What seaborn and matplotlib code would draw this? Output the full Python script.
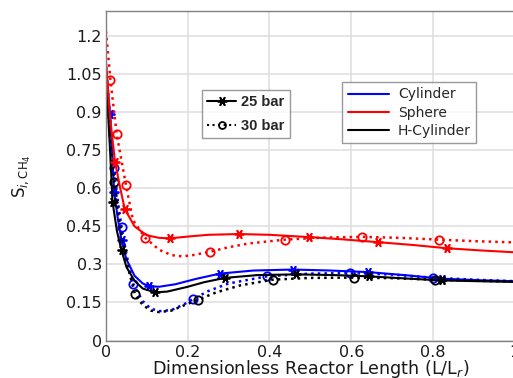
import matplotlib
matplotlib.use("Agg")
import matplotlib.pyplot as plt
import seaborn as sns
from matplotlib.lines import Line2D

# ---- data ----
# Sphere, 25 bar (red solid)
sph25_x = [0, 0.01, 0.022, 0.035, 0.046, 0.07, 0.1, 0.13, 0.156, 0.2, 0.25, 0.325, 0.4, 0.496, 0.58, 0.665, 0.75, 0.834, 0.92, 1.0]
sph25_y = [1.1, 0.88, 0.706, 0.6, 0.518, 0.45, 0.415, 0.405, 0.403, 0.41, 0.417, 0.42, 0.417, 0.408, 0.399, 0.388, 0.377, 0.364, 0.355, 0.348]
sph25_mk = [2, 4, 8, 11, 13, 15, 17]

# Sphere, 30 bar (red dotted)
sph30_x = [0, 0.011, 0.026, 0.049, 0.066, 0.096, 0.13, 0.16, 0.185, 0.21, 0.254, 0.3, 0.35, 0.438, 0.53, 0.626, 0.72, 0.814, 0.9, 1.0]
sph30_y = [1.22, 1.026, 0.816, 0.612, 0.475, 0.405, 0.358, 0.337, 0.332, 0.336, 0.35, 0.368, 0.383, 0.398, 0.406, 0.409, 0.405, 0.398, 0.392, 0.387]
sph30_mk = [1, 2, 3, 5, 10, 13, 15, 17]

# Cylinder, 25 bar (blue solid)
cyl25_x = [0, 0.005, 0.01, 0.02, 0.029, 0.038, 0.05, 0.07, 0.09, 0.106, 0.13, 0.17, 0.22, 0.279, 0.36, 0.458, 0.55, 0.641, 0.73, 0.822, 0.91, 1.0]
cyl25_y = [1.08, 0.98, 0.895, 0.587, 0.48, 0.396, 0.32, 0.255, 0.225, 0.214, 0.212, 0.222, 0.243, 0.264, 0.276, 0.28, 0.276, 0.27, 0.258, 0.244, 0.238, 0.234]
cyl25_mk = [2, 3, 5, 9, 13, 15, 17, 19]

# Cylinder, 30 bar (blue dotted)
cyl30_x = [0, 0.005, 0.01, 0.02, 0.029, 0.038, 0.05, 0.067, 0.09, 0.11, 0.132, 0.16, 0.19, 0.212, 0.25, 0.3, 0.393, 0.5, 0.597, 0.7, 0.8, 0.9, 1.0]
cyl30_y = [1.08, 0.98, 0.87, 0.68, 0.55, 0.449, 0.34, 0.222, 0.155, 0.125, 0.116, 0.12, 0.142, 0.162, 0.195, 0.225, 0.253, 0.264, 0.266, 0.26, 0.248, 0.24, 0.234]
cyl30_mk = [3, 5, 7, 13, 16, 18, 20]

# H-Cylinder, 25 bar (black solid)
hcy25_x = [0, 0.005, 0.01, 0.016, 0.027, 0.038, 0.05, 0.07, 0.09, 0.12, 0.15, 0.2, 0.24, 0.291, 0.37, 0.466, 0.56, 0.644, 0.73, 0.822, 0.91, 1.0]
hcy25_y = [1.05, 0.9, 0.75, 0.547, 0.43, 0.356, 0.29, 0.235, 0.205, 0.19, 0.193, 0.212, 0.23, 0.247, 0.258, 0.261, 0.258, 0.253, 0.245, 0.237, 0.234, 0.231]
hcy25_mk = [3, 5, 9, 13, 15, 17, 19]

# H-Cylinder, 30 bar (black dotted)
hcy30_x = [0, 0.005, 0.01, 0.02, 0.03, 0.04, 0.055, 0.071, 0.09, 0.11, 0.13, 0.16, 0.19, 0.225, 0.27, 0.33, 0.408, 0.5, 0.606, 0.7, 0.805, 0.9, 1.0]
hcy30_y = [1.05, 0.93, 0.8, 0.627, 0.5, 0.4, 0.28, 0.182, 0.14, 0.118, 0.112, 0.118, 0.138, 0.161, 0.19, 0.218, 0.24, 0.247, 0.248, 0.246, 0.24, 0.236, 0.232]
hcy30_mk = [3, 7, 13, 16, 18, 20]

x_ticks = [0, 0.2, 0.4, 0.6, 0.8, 1.0]
x_tick_labels = ["0", "0.2", "0.4", "0.6", "0.8", "1"]
y_ticks = [0, 0.15, 0.3, 0.45, 0.6, 0.75, 0.9, 1.05, 1.2]
y_tick_labels = ["0", "0.15", "0.3", "0.45", "0.6", "0.75", "0.9", "1.05", "1.2"]

geom_names = ["Cylinder", "Sphere", "H-Cylinder"]
geom_colors = ["#0000ff", "#ff0000", "#000000"]
press_names = ["25 bar", "30 bar"]

# ---- figure ----
sns.set_style("white")
plt.rcParams['font.family'] = ['DejaVu Sans']
fig = plt.figure(figsize=(5.13, 3.78), dpi=100)
ax = fig.add_axes([0.2066, 0.0992, 0.7968, 0.8717])

ast = (6, 2, 90)
series = [
    (cyl25_x, cyl25_y, cyl25_mk, geom_colors[0], "-", ast),
    (cyl30_x, cyl30_y, cyl30_mk, geom_colors[0], ":", "o"),
    (hcy25_x, hcy25_y, hcy25_mk, geom_colors[2], "-", ast),
    (hcy30_x, hcy30_y, hcy30_mk, geom_colors[2], ":", "o"),
    (sph25_x, sph25_y, sph25_mk, geom_colors[1], "-", ast),
    (sph30_x, sph30_y, sph30_mk, geom_colors[1], ":", "o"),
]
for xs, ys, mk, c, ls, m in series:
    sns.lineplot(x=xs, y=ys, ax=ax, color=c, linestyle=ls, linewidth=1.5 if ls == "-" else 1.8,
                 marker=m, markevery=mk, markersize=7 if m != "o" else 6,
                 markerfacecolor="none", markeredgecolor=c, markeredgewidth=1.3,
                 sort=False, estimator=None, errorbar=None)

ax.set_xlim(0, 1.0)
ax.set_ylim(0, 1.3)
ax.set_xticks(x_ticks)
ax.set_xticklabels(x_tick_labels)
ax.set_yticks(y_ticks)
ax.set_yticklabels(y_tick_labels)
ax.grid(True, color="#e0e0e0", linewidth=1.2)
ax.set_axisbelow(True)
for s in ax.spines.values():
    s.set_color("#808080")
    s.set_linewidth(1.0)
ax.tick_params(axis="both", labelsize=11.5, length=0, pad=3, colors="#1a1a1a")
ax.set_xlabel("Dimensionless Reactor Length (L/L$_r$)", fontsize=12.6, labelpad=-1, color="#1a1a1a")
ax.set_ylabel("S$_{i,\\mathrm{CH_4}}$", fontsize=12, labelpad=24, color="#1a1a1a")

# geometry legend
g_handles = [Line2D([0], [0], color=c, lw=1.5) for c in geom_colors]
leg1 = ax.legend(g_handles, geom_names, loc="upper left", bbox_to_anchor=(0.578, 0.785),
                 frameon=True, fancybox=False, edgecolor="#808080", fontsize=10,
                 handlelength=3.0, handletextpad=0.6, borderpad=0.4, labelspacing=0.3,
                 borderaxespad=0)
leg1.get_frame().set_linewidth(1.0)
ax.add_artist(leg1)

# pressure legend
p_handles = [Line2D([0], [0], color="black", lw=1.5, ls="-", marker=ast, markersize=7,
                    markeredgewidth=1.3),
             Line2D([0], [0], color="black", lw=1.5, ls=":", marker="o", markersize=5,
                    markerfacecolor="none", markeredgewidth=1.3)]
leg2 = ax.legend(p_handles, press_names, loc="upper left", bbox_to_anchor=(0.235, 0.76),
                 frameon=True, fancybox=False, edgecolor="#808080",
                 prop={"family": "Liberation Sans", "weight": "bold", "size": 10.5},
                 handlelength=2.0, handletextpad=0.35, borderpad=0.35, labelspacing=0.65,
                 borderaxespad=0)
leg2.get_frame().set_linewidth(1.0)

fig.savefig("out.png", dpi=100)
